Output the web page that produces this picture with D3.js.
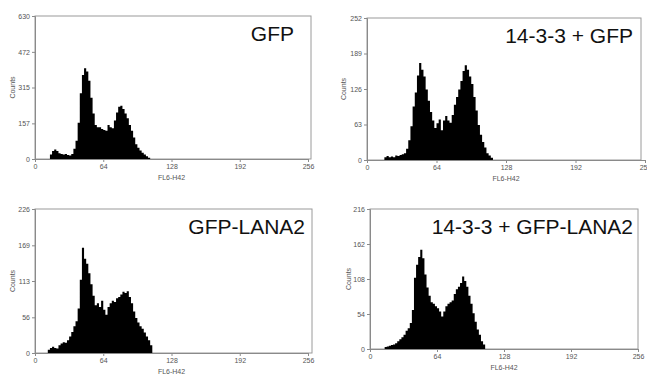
<!DOCTYPE html>
<html>
<head>
<meta charset="utf-8">
<script src="https://cdn.jsdelivr.net/npm/d3@7"></script>
<style>
  body { margin: 0; background: #fff; }
  svg { display: block; font-family: "Liberation Sans", Arial, sans-serif; }
</style>
</head>
<body>
<div id="chart"></div>
<script>
// channel (bin start) on FL6-H42, 2 channels per bin
const channels = [10,12,14,16,18,20,22,24,26,28,30,32,34,36,38,40,42,44,46,48,
  50,52,54,56,58,60,62,64,66,68,70,72,74,76,78,80,82,84,86,88,
  90,92,94,96,98,100,102,104,106,108,110,112,114,116];

const gfp = [0,0,20,35,42,35,25,22,20,22,18,15,22,45,80,160,290,370,400,385,
  345,270,200,150,140,140,132,128,125,150,140,135,170,205,230,235,220,200,180,150,
  125,95,65,50,38,28,20,12,6,0,0,0,0,0];

const gfp1433 = [0,0,0,5,7,5,6,5,8,7,9,10,12,20,35,60,95,120,150,172,
  160,148,125,105,85,70,57,65,72,53,70,78,70,66,80,98,112,125,140,158,
  168,160,148,135,112,88,62,45,32,22,12,8,4,0];

const lana2 = [0,5,8,10,8,7,12,15,17,16,20,26,33,42,50,70,115,165,148,140,
  125,108,90,75,78,72,82,68,60,72,78,82,80,86,88,92,96,94,97,88,
  78,65,55,48,42,38,32,26,20,12,0,0,0,0];

const lana21433 = [0,0,3,4,5,6,7,9,12,15,18,22,28,32,40,60,110,130,142,153,
  140,115,95,82,72,70,66,63,58,50,58,66,70,72,75,85,92,96,102,112,
  105,96,82,70,55,42,30,22,12,7,0,0,0,0];

const titles = ['GFP', '14-3-3 + GFP', 'GFP-LANA2', '14-3-3 + GFP-LANA2'];
const xTicks = [0, 64, 128, 192, 256];
const yTicksGfp = [0, 157, 315, 472, 630];
const yTicksGfp1433 = [0, 63, 126, 189, 252];
const yTicksLana2 = [0, 56, 113, 169, 226];
const yTicksLana21433 = [0, 54, 108, 162, 216];

const panels = [
  { title: titles[0], values: gfp, yTicks: yTicksGfp, x0: 35, x1: 308, top: 16, bottom: 159, boxRight: 311, labelX: -22 },
  { title: titles[1], values: gfp1433, yTicks: yTicksGfp1433, x0: 367, x1: 645, top: 18, bottom: 160, boxRight: 641, labelX: -23 },
  { title: titles[2], values: lana2, yTicks: yTicksLana2, x0: 35, x1: 308, top: 209, bottom: 353, boxRight: 312, labelX: -22 },
  { title: titles[3], values: lana21433, yTicks: yTicksLana21433, x0: 370, x1: 638, top: 209, bottom: 349, boxRight: 638, labelX: -21 }
];

const svg = d3.select('#chart').append('svg')
  .attr('width', 647)
  .attr('height', 375);

function drawPanel(p) {
  const xScale = d3.scaleLinear().domain([0, 256]).range([p.x0, p.x1]);
  const yScale = d3.scaleLinear().domain([0, p.yTicks[p.yTicks.length - 1]]).range([p.bottom, p.top]);
  const g = svg.append('g');

  // frame
  g.append('rect')
    .attr('x', p.x0)
    .attr('y', p.top)
    .attr('width', p.boxRight - p.x0)
    .attr('height', p.bottom - p.top)
    .attr('fill', 'none')
    .attr('stroke', '#9a9a9a')
    .attr('stroke-width', 1);

  // histogram
  const pts = channels.map((c, i) => [c, p.values[i]]);
  pts.push([channels[channels.length - 1] + 2, 0]);
  const area = d3.area()
    .curve(d3.curveStepAfter)
    .x(d => xScale(d[0]))
    .y0(p.bottom)
    .y1(d => yScale(d[1]));
  g.append('path')
    .datum(pts)
    .attr('d', area)
    .attr('fill', '#000');

  const xAxis = d3.axisBottom(xScale)
    .tickValues(xTicks)
    .tickSize(3)
    .tickPadding(2);
  g.append('g')
    .attr('transform', `translate(0, ${p.bottom})`)
    .call(xAxis)
    .call(sel => styleAxis(sel));

  const yAxis = d3.axisLeft(yScale)
    .tickValues(p.yTicks)
    .tickSize(3)
    .tickPadding(2);
  g.append('g')
    .attr('transform', `translate(${p.x0}, 0)`)
    .call(yAxis)
    .call(sel => styleAxis(sel));

  g.append('text')
    .attr('x', xScale(128))
    .attr('y', p.bottom + 21)
    .attr('text-anchor', 'middle')
    .attr('font-size', 7)
    .attr('fill', '#555')
    .text('FL6-H42');

  g.append('text')
    .attr('transform', `translate(${p.x0 + p.labelX}, ${(p.top + p.bottom) / 2}) rotate(-90)`)
    .attr('text-anchor', 'middle')
    .attr('dy', '0.35em')
    .attr('font-size', 7)
    .attr('fill', '#555')
    .text('Counts');

  g.append('text')
    .attr('x', p.title.length > 10 ? 633 : (p.x0 < 100 ? (p.title === 'GFP' ? 294 : 305) : 633))
    .attr('y', p.top + 25)
    .attr('text-anchor', 'end')
    .attr('font-size', 21)
    .attr('fill', '#111')
    .text(p.title);
}

function styleAxis(sel) {
  sel.select('.domain').attr('stroke', '#8a8a8a');
  sel.selectAll('.tick line').attr('stroke', '#8a8a8a');
  sel.selectAll('.tick text')
    .attr('font-size', 7)
    .attr('font-family', '"Liberation Sans", Arial, sans-serif')
    .attr('fill', '#555');
}

panels.forEach(drawPanel);
</script>
</body>
</html>
